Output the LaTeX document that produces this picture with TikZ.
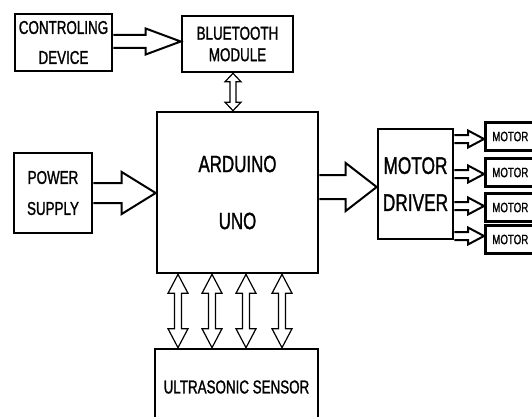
\documentclass[tikz,border=0pt]{standalone}
\usepackage{fontspec}
\setmainfont[FakeStretch=0.72, FakeBold=1.2]{Liberation Sans}
\usetikzlibrary{calc}
% horizontal hollow block arrow: style, start, tip, shaft half, head half, head length
\newcommand\hblk[6]{%
  \draw[#1] ($(#2)+(0,-#4)$) -- ($(#3)+(-#6,-#4)$) -- ($(#3)+(-#6,-#5)$) -- (#3)
    -- ($(#3)+(-#6,#5)$) -- ($(#3)+(-#6,#4)$) -- ($(#2)+(0,#4)$);}
% vertical hollow double arrow: style, top tip, bottom tip, shaft half, head half, head length
\newcommand\vdblk[6]{%
  \draw[#1] (#2) -- ($(#2)+(#5,#6)$) -- ($(#2)+(#4,#6)$) -- ($(#3)+(#4,-#6)$)
    -- ($(#3)+(#5,-#6)$) -- (#3) -- ($(#3)+(-#5,-#6)$) -- ($(#3)+(-#4,-#6)$)
    -- ($(#2)+(-#4,#6)$) -- ($(#2)+(-#5,#6)$) -- cycle;}
\tikzset{
  blk/.style={draw, line width=2.6pt, rectangle, inner sep=0pt, align=center, fill=white},
  motorbox/.style={draw, line width=2.6pt, rectangle, inner xsep=7pt, inner ysep=0pt,
    minimum height=28pt, text width=42pt, align=left, anchor=west,
    font=\fontsize{13.5}{14}\selectfont},
  bigarrow/.style={draw, line width=2pt, fill=white, line join=miter},
  smallarrow/.style={draw, line width=2pt, fill=white, line join=miter},
  dblarrow/.style={draw, line width=1.2pt, fill=white, line join=miter},
}
\begin{document}
\begin{tikzpicture}[x=1pt, y=-1pt]
\useasboundingbox (0,0) rectangle (532,417);
\fill[white] (0,0) rectangle (532,417);
\clip (0,0) rectangle (532,417);

% boxes
\node[blk, minimum width=97pt, minimum height=57pt, font=\fontsize{18.6}{30}\selectfont]
  (cd) at (63.5,42.5) {CONTROLING\\DEVICE};
\node[blk, minimum width=111pt, minimum height=56pt, font=\fontsize{18.6}{21.5}\selectfont]
  (bt) at (237.5,44) {BLUETOOTH\\MODULE};
\node[blk, minimum width=161pt, minimum height=161pt, font=\fontsize{23.5}{54}\selectfont]
  (ard) at (237.5,192.5) {\raisebox{3pt}{ARDUINO}\\UNO};
\node[blk, minimum width=78pt, minimum height=80pt, font=\fontsize{18.6}{31}\selectfont]
  (ps) at (53,193) {POWER\\SUPPLY};
\node[blk, minimum width=75pt, minimum height=110pt, font=\fontsize{24}{35}\selectfont]
  (md) at (415.5,184) {\raisebox{2pt}{MOTOR}\\DRIVER};
\node[blk, minimum width=163pt, minimum height=76pt, font=\fontsize{18.6}{20}\selectfont]
  (us) at (236.5,387) {ULTRASONIC SENSOR};

\node[motorbox] (m1) at (484,136.5) {MOTOR};
\node[motorbox] (m2) at (484,172.5) {MOTOR};
\node[motorbox] (m3) at (484,207.5) {MOTOR};
\node[motorbox] (m4) at (484,239.5) {MOTOR};

% connector end points
\coordinate (a1s) at (cd.east |- 0,41.5);
\coordinate (a1e) at (bt.west |- 0,41.5);
\coordinate (a2s) at (ps.east |- 0,193);
\coordinate (a2e) at (ard.west |- 0,193);
\coordinate (a3s) at (ard.east |- 0,187);
\coordinate (a3e) at (md.west |- 0,187);
\coordinate (b1s) at (md.east |- 0,139);
\coordinate (b1e) at (m1.west |- 0,139);
\coordinate (b2s) at (md.east |- 0,174);
\coordinate (b2e) at (m2.west |- 0,174);
\coordinate (b3s) at (md.east |- 0,206);
\coordinate (b3e) at (m3.west |- 0,206);
\coordinate (b4s) at (md.east |- 0,236);
\coordinate (b4e) at (m4.west |- 0,236);
\coordinate (ct) at (bt.south -| 233,0);
\coordinate (cb) at (ard.north -| 233,0);
\coordinate (d1t) at (ard.south -| 178,0);
\coordinate (d1b) at (us.north -| 178,0);
\coordinate (d2t) at (ard.south -| 212,0);
\coordinate (d2b) at (us.north -| 212,0);
\coordinate (d3t) at (ard.south -| 246,0);
\coordinate (d3b) at (us.north -| 246,0);
\coordinate (d4t) at (ard.south -| 282,0);
\coordinate (d4b) at (us.north -| 282,0);

% block arrows
\hblk{bigarrow}{a1s}{a1e}{6.5}{13}{35}
\hblk{bigarrow}{a2s}{a2e}{10}{21}{34}
\hblk{bigarrow}{a3s}{a3e}{12}{24}{31}
\hblk{smallarrow}{b1s}{b1e}{4}{8.5}{16}
\hblk{smallarrow}{b2s}{b2e}{4}{8.5}{16}
\hblk{smallarrow}{b3s}{b3e}{4}{8.5}{16}
\hblk{smallarrow}{b4s}{b4e}{4}{8.5}{16}

% double arrows
\vdblk{dblarrow}{ct}{cb}{3}{8}{8.5}
\vdblk{dblarrow}{d1t}{d1b}{3.5}{10}{19}
\vdblk{dblarrow}{d2t}{d2b}{3.5}{10}{19}
\vdblk{dblarrow}{d3t}{d3b}{3.5}{10}{19}
\vdblk{dblarrow}{d4t}{d4b}{3.5}{10}{19}
\end{tikzpicture}
\end{document}
